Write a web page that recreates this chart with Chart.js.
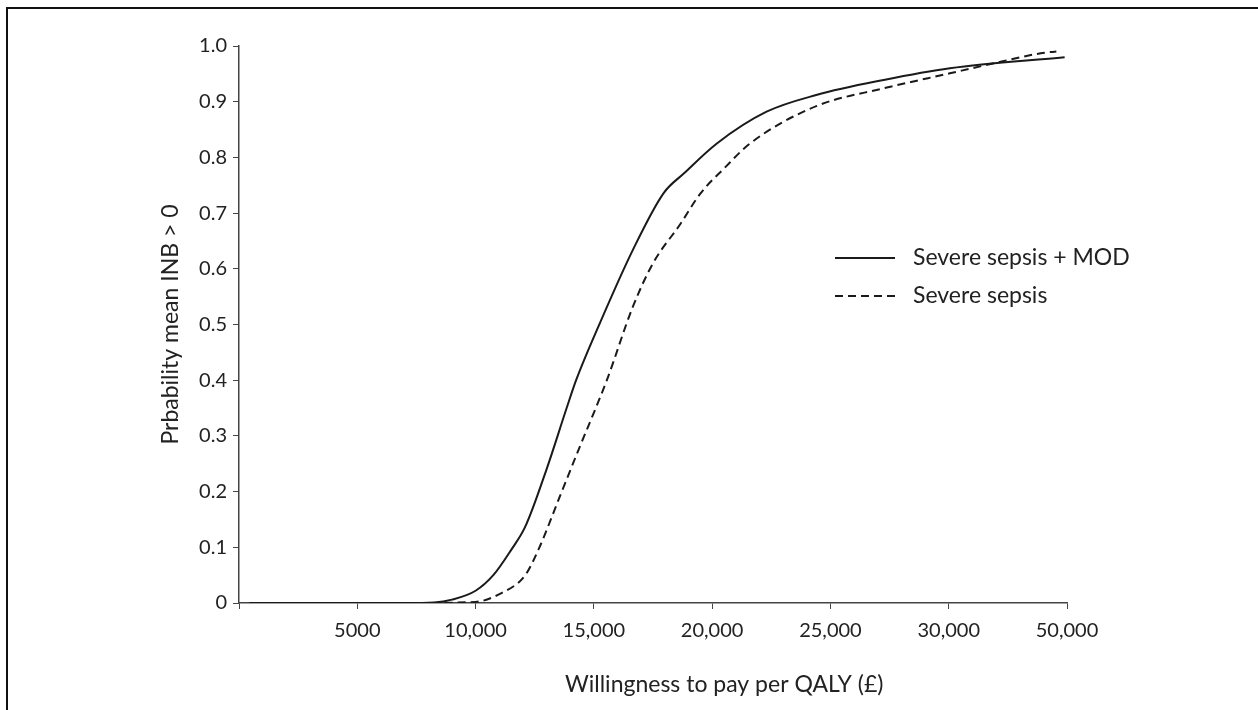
<!DOCTYPE html>
<html>
<head>
<meta charset="utf-8">
<script src="https://cdn.jsdelivr.net/npm/chart.js@4.4.1/dist/chart.umd.min.js"></script>
<style>
  html, body { margin: 0; padding: 0; background: #fff; }
  #wrap { position: absolute; left: 0; top: 0; width: 1258px; height: 710px; }
  #frame { position: absolute; left: 6px; top: 7px; width: 1252px; height: 703px;
           border-top: 2px solid #111; border-left: 2px solid #111; box-sizing: border-box; }
</style>
</head>
<body>
<div id="wrap">
  <div id="frame"></div>
  <canvas id="chartCanvas" width="1258" height="710"></canvas>
</div>
<script>
// x tick labels sit at equal spacing (0..7), not at their numeric value
var tickLabels = ['', '5000', '10,000', '15,000', '20,000', '25,000', '30,000', '50,000'];

var modX = [0.09, 0.8, 1.4, 1.65, 1.8, 2.0, 2.15, 2.3, 2.42, 2.6, 2.77, 2.85, 3.05, 3.33, 3.59, 3.76, 4.04, 4.46, 4.88, 5.45, 6.01, 6.98];
var modY = [0, 0, 0, 0.001, 0.006, 0.022, 0.05, 0.095, 0.137, 0.24, 0.35, 0.40, 0.502, 0.634, 0.736, 0.771, 0.825, 0.882, 0.912, 0.939, 0.960, 0.980];

var sepsisX = [0.09, 1.5, 2.0, 2.21, 2.42, 2.54, 2.71, 2.88, 3.02, 3.11, 3.33, 3.5, 3.73, 3.9, 4.1, 4.32, 4.88, 5.45, 6.01, 6.3, 6.81, 6.91];
var sepsisY = [0, 0, 0.002, 0.017, 0.05, 0.10, 0.19, 0.28, 0.352, 0.40, 0.532, 0.61, 0.68, 0.735, 0.78, 0.825, 0.892, 0.924, 0.951, 0.965, 0.988, 0.99];

var xTitle = 'Willingness to pay per QALY (£)';
var yTitle = 'Prbability mean INB > 0';

function pts(xs, ys) {
	var out = [];
	for (var i in xs) {
		out.push({x: xs[i], y: ys[i]});
	}
	return out;
}

var font = "Lato, 'Open Sans', sans-serif";
var ink = '#222';

// legend drawn inside the plot, and the x title which sits right of centre in the original
var extras = {
	id: 'extras',
	afterDraw: function(chart) {
		var c = chart.ctx;
		var rows = [258, 296];
		c.save();
		chart.data.datasets.forEach(function(ds, i) {
			c.beginPath();
			c.strokeStyle = ds.borderColor;
			c.lineWidth = ds.borderWidth;
			c.setLineDash(ds.borderDash || []);
			c.moveTo(835, rows[i]);
			c.lineTo(895, rows[i]);
			c.stroke();
			c.setLineDash([]);
			c.fillStyle = ink;
			c.font = '23px ' + font;
			c.textBaseline = 'middle';
			c.textAlign = 'left';
			c.fillText(ds.label, 913, rows[i]);
		});
		c.fillText(xTitle, 565, 685);
		c.restore();
	}
};

var chartdata = {
	datasets: [
		{
			label: 'Severe sepsis + MOD',
			data: pts(modX, modY),
			borderColor: '#1a1a1a',
			borderWidth: 2,
			pointRadius: 0,
			cubicInterpolationMode: 'monotone',
			fill: false
		},
		{
			label: 'Severe sepsis',
			data: pts(sepsisX, sepsisY),
			borderColor: '#1a1a1a',
			borderWidth: 2,
			borderDash: [8, 5],
			pointRadius: 0,
			cubicInterpolationMode: 'monotone',
			fill: false
		}
	]
};

var ctx = document.getElementById('chartCanvas');

var lineGraph = new Chart(ctx, {
	type: 'line',
	data: chartdata,
	plugins: [extras],
	options: {
		responsive: false,
		animation: false,
		layout: { padding: { top: 46, right: 191, left: 0, bottom: 0 } },
		plugins: { legend: { display: false }, tooltip: { enabled: false } },
		scales: {
			x: {
				type: 'linear',
				min: 0,
				max: 7,
				afterFit: function(scale) { scale.height = 107; },
				afterBuildTicks: function(scale) {
					scale.ticks = tickLabels.map(function(t, i) { return {value: i}; });
				},
				ticks: {
					autoSkip: false,
					maxRotation: 0,
					padding: 10,
					color: ink,
					font: { family: font, size: 20 },
					callback: function(v) { return tickLabels[v]; }
				},
				grid: { display: true, drawOnChartArea: false, drawTicks: true, tickLength: 6, color: '#444' },
				border: { display: true, color: '#444', width: 1.5 }
			},
			y: {
				min: 0,
				max: 1,
				afterFit: function(scale) { scale.width = 239; },
				ticks: {
					stepSize: 0.1,
					padding: 6,
					color: ink,
					font: { family: font, size: 20 },
					callback: function(v) { return v === 0 ? '0' : v.toFixed(1); }
				},
				grid: { display: true, drawOnChartArea: false, drawTicks: true, tickLength: 6, color: '#444' },
				border: { display: true, color: '#444', width: 1.5 },
				title: {
					display: true,
					text: yTitle,
					color: ink,
					font: { family: font, size: 23 },
					padding: { top: 157, bottom: 0 }
				}
			}
		}
	}
});
</script>
</body>
</html>
